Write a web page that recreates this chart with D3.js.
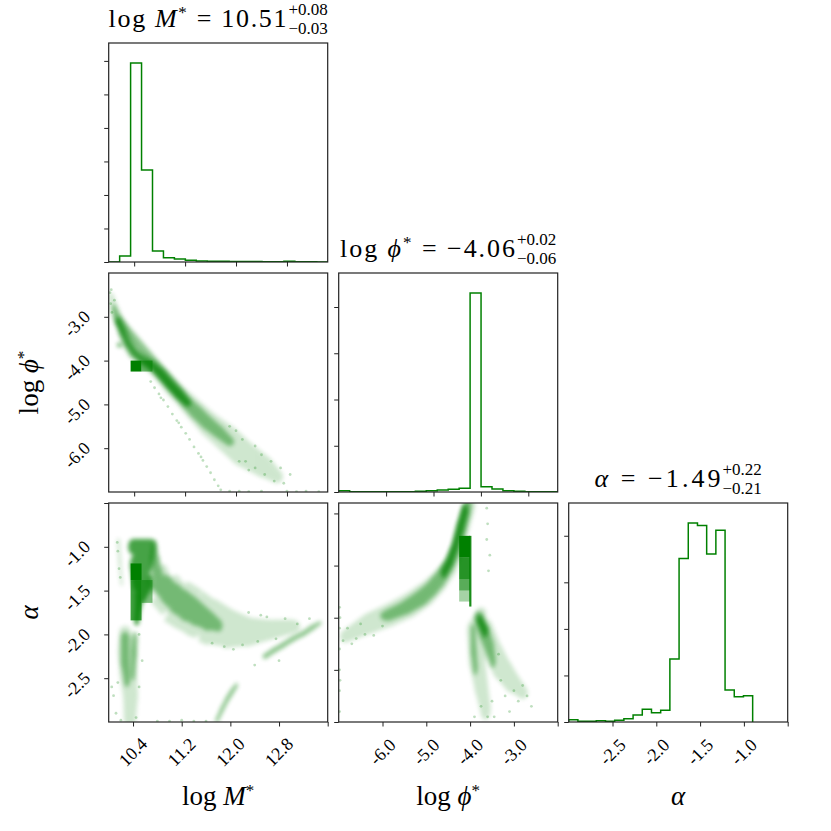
<!DOCTYPE html>
<html>
<head>
<meta charset="utf-8">
<script src="https://cdn.jsdelivr.net/npm/d3@7"></script>
<style>
  body { margin: 0; background: #fff; }
  text { font-family: "Liberation Serif", "DejaVu Serif", serif; fill: #000; }
</style>
</head>
<body>
<svg id="chart" width="831" height="831"></svg>
<script>
// axis ranges of every panel
const logMRangeTop = [10.0, 13.44];
const logMRangeBottom = [10.0, 13.6];
const logPhiRangeHist = [-7.0, -2.38];
const logPhiRangeSide = [-7.0, -2.0];
const alphaRangeHist = [-3.0, -0.5];
const alphaRangeLeft = [-3.0, -0.5];
const alphaRangeMid = [-2.5, -0.4];

// 1D histograms, 20 bins each
const logMBinRange = [10.0, 13.44];
const logMCounts = [0, 179, 5940, 2746, 330, 130, 90, 50, 30, 20, 20, 15, 15, 12, 10, 10, 20, 10, 5, 3];
const logPhiBinRange = [-7.0, -2.38];
const logPhiCounts = [28, 6, 6, 6, 6, 8, 8, 15, 28, 43, 58, 80, 4305, 115, 65, 28, 15, 6, 4, 3];
const alphaBinRange = [-3.0, -0.9];
const alphaCounts = [50, 15, 15, 28, 15, 37, 71, 151, 274, 201, 253, 1354, 3514, 4276, 4218, 3607, 4119, 685, 540, 562];
const countTicksM = [0, 1000, 2000, 3000, 4000, 5000, 6000];
const countTicks = [0, 1000, 2000, 3000, 4000];

// ticks
const logMTicks = [10.4, 11.2, 12.0, 12.8];
const logMTicksBottom = [10.4, 11.2, 12.0, 12.8, 13.6];
const logPhiTicks = [-6.0, -5.0, -4.0, -3.0];
const logPhiTicksBottom = [-6.0, -5.0, -4.0, -3.0, -2.0];
const alphaTicks = [-2.5, -2.0, -1.5, -1.0];
const alphaTicksAll = [-2.5, -2.0, -1.5, -1.0, -0.5];

// titles
const titleValues = ["10.51", "\u22124.06", "\u22121.49"];
const titlePlus = ["+0.08", "+0.02", "+0.22"];
const titleMinus = ["\u22120.03", "\u22120.06", "\u22120.21"];

// ---- sample clouds: bands of [x, y, spread x, spread y] in data units ----
// log M* vs log phi*
const mPhiWide = [
  [10.04, -2.55, 0.04, 0.1], [10.10, -2.85, 0.06, 0.14], [10.18, -3.15, 0.08, 0.16], [10.27, -3.5, 0.09, 0.16],
  [10.38, -3.8, 0.1, 0.15], [10.54, -3.99, 0.11, 0.14], [10.70, -4.14, 0.11, 0.15], [10.86, -4.37, 0.12, 0.17],
  [11.01, -4.63, 0.13, 0.19], [11.20, -4.90, 0.14, 0.2], [11.38, -5.17, 0.16, 0.23], [11.59, -5.47, 0.18, 0.27],
  [11.85, -5.77, 0.2, 0.3], [12.11, -6.12, 0.2, 0.3], [12.43, -6.42, 0.16, 0.25], [12.64, -6.65, 0.1, 0.15]
];
const mPhiMid = [
  [10.08, -2.8, 0.03, 0.08], [10.14, -3.05, 0.05, 0.11], [11.22, -4.95, 0.09, 0.13], [11.38, -5.18, 0.1, 0.15],
  [11.55, -5.42, 0.1, 0.15], [11.72, -5.62, 0.09, 0.14], [11.9, -5.85, 0.07, 0.1]
];
const mPhiCore = [
  [10.15, -3.1, 0.035, 0.09], [10.22, -3.35, 0.05, 0.1], [10.30, -3.6, 0.055, 0.1], [10.40, -3.82, 0.06, 0.09],
  [10.52, -3.97, 0.07, 0.08], [10.66, -4.10, 0.07, 0.09], [10.80, -4.28, 0.075, 0.1], [10.95, -4.53, 0.075, 0.1],
  [11.10, -4.76, 0.07, 0.11], [11.24, -4.97, 0.05, 0.08]
];
const mPhiKnot = [[10.16, -3.64, 0.025, 0.05], [10.18, -3.66, 0.02, 0.04]];
const mPhiDots = [
  [10.02, -2.45], [10.04, -2.38], [10.03, -2.7], [10.09, -2.62], [10.05, -2.9],
  [10.66, -4.48], [10.72, -4.62], [10.79, -4.76], [10.86, -4.9], [10.93, -5.05], [11.0, -5.22], [11.07, -5.37],
  [11.14, -5.52], [11.21, -5.66], [11.27, -5.8], [11.34, -5.97], [11.41, -6.12], [11.48, -6.28], [11.54, -6.42],
  [11.6, -6.56], [11.66, -6.72], [11.72, -6.86], [11.76, -6.95], [10.82, -4.85], [11.1, -5.42], [11.45, -6.2],
  [11.9, -5.5], [12.0, -5.6], [12.1, -5.8], [12.15, -6.3], [12.3, -5.95], [12.3, -6.45], [12.4, -6.15],
  [12.45, -6.6], [12.55, -6.3], [12.6, -6.75], [12.7, -6.45], [12.75, -6.8], [12.2, -6.5], [12.85, -6.6], [12.05, -6.3],
  [11.9, -6.98], [12.05, -6.98], [12.2, -6.99], [12.4, -6.98], [12.8, -6.98], [12.95, -6.99], [13.1, -6.98], [13.3, -6.99]
];
const mPhiCells = [
  [10.344, 10.516, -4.0, -4.25, 1.0],
  [10.516, 10.688, -4.0, -4.25, 0.6]
];

// log M* vs alpha
const mAlphaTailWide = [
  [10.75, -1.3, 0.08, 0.25], [10.9, -1.48, 0.12, 0.28], [11.1, -1.62, 0.15, 0.3], [11.34, -1.72, 0.17, 0.3],
  [11.61, -1.84, 0.17, 0.28], [11.94, -1.93, 0.18, 0.23], [12.27, -1.97, 0.18, 0.17], [12.6, -1.95, 0.15, 0.12],
  [13.0, -1.91, 0.15, 0.08]
];
const mAlphaTail = [
  [10.75, -1.1, 0.06, 0.18], [10.82, -1.38, 0.08, 0.15], [10.97, -1.5, 0.12, 0.16], [11.12, -1.6, 0.13, 0.17],
  [11.27, -1.68, 0.13, 0.17], [11.42, -1.75, 0.12, 0.15], [11.62, -1.84, 0.1, 0.12], [11.8, -1.9, 0.07, 0.07]
];
const mAlphaColumn = [
  [10.40, -1.0, 0.08, 0.09], [10.55, -1.0, 0.09, 0.09], [10.70, -1.0, 0.07, 0.09], [10.62, -1.2, 0.1, 0.12],
  [10.45, -1.2, 0.1, 0.12], [10.48, -1.4, 0.09, 0.12], [10.65, -1.4, 0.08, 0.1], [10.5, -1.6, 0.06, 0.12],
  [10.47, -1.78, 0.04, 0.1], [10.46, -1.85, 0.04, 0.05]
];
const mAlphaLeftWide = [
  [10.27, -1.98, 0.1, 0.08], [10.3, -2.2, 0.15, 0.22], [10.32, -2.45, 0.14, 0.18], [10.36, -2.7, 0.12, 0.17],
  [10.35, -2.95, 0.1, 0.12]
];
const mAlphaLeftCore = [[10.27, -2.05, 0.07, 0.08], [10.27, -2.3, 0.07, 0.13], [10.3, -2.5, 0.05, 0.1]];
const mAlphaLeftCore2 = [[10.43, -2.05, 0.045, 0.08], [10.42, -2.2, 0.045, 0.1], [10.4, -2.45, 0.03, 0.08]];
const mAlphaRightLine = [
  [12.57, -2.25, 0.04, 0.03], [12.72, -2.18, 0.04, 0.03], [12.87, -2.12, 0.04, 0.03], [13.03, -2.05, 0.04, 0.03],
  [13.2, -1.99, 0.04, 0.03], [13.35, -1.92, 0.04, 0.03], [13.47, -1.87, 0.03, 0.02]
];
const mAlphaLowLine = [
  [11.78, -2.98, 0.025, 0.03], [11.86, -2.86, 0.025, 0.04], [11.94, -2.75, 0.025, 0.04], [12.02, -2.66, 0.025, 0.04],
  [12.1, -2.58, 0.02, 0.03]
];
const mAlphaThinLine = [[10.16, -0.93, 0.025, 0.03], [10.18, -1.15, 0.025, 0.05], [10.21, -1.42, 0.02, 0.03]];
const mAlphaDots = [
  [12.3, -1.75], [12.45, -2.08], [12.6, -1.8], [12.75, -2.05], [12.9, -1.82], [13.1, -1.88], [13.3, -1.82],
  [12.2, -2.12], [12.05, -2.17], [11.9, -2.14], [12.5, -1.78], [12.8, -2.3], [12.4, -2.35], [11.7, -2.1],
  [10.05, -2.6], [10.08, -2.7], [10.12, -2.9], [10.15, -2.55], [10.5, -2.0], [10.55, -2.3], [10.5, -2.6],
  [10.45, -2.95], [10.2, -2.98], [10.8, -2.99], [11.0, -2.99], [11.2, -2.98], [11.4, -2.99], [11.6, -2.99],
  [10.14, -0.95], [10.15, -1.05], [10.17, -1.25], [10.19, -1.35]
];
const mAlphaCells = [
  [10.36, 10.54, -1.19, -1.38, 1.0],
  [10.36, 10.54, -1.38, -1.84, 0.75],
  [10.54, 10.72, -1.38, -1.64, 0.5]
];

// log phi* vs alpha
const phiAlphaBandWide = [
  [-6.85, -1.68, 0.12, 0.06], [-6.29, -1.552, 0.2, 0.1], [-5.83, -1.473, 0.22, 0.11], [-5.37, -1.377, 0.22, 0.12],
  [-4.99, -1.265, 0.2, 0.12], [-4.69, -1.138, 0.17, 0.11], [-4.46, -1.01, 0.15, 0.1], [-4.30, -0.85, 0.15, 0.1],
  [-4.19, -0.659, 0.15, 0.1], [-4.08, -0.499, 0.14, 0.1], [-4.0, -0.42, 0.12, 0.06]
];
const phiAlphaBand = [
  [-5.9, -1.48, 0.15, 0.05], [-5.5, -1.41, 0.18, 0.06], [-5.15, -1.32, 0.18, 0.07], [-4.9, -1.23, 0.15, 0.07],
  [-4.68, -1.12, 0.12, 0.08], [-4.48, -0.99, 0.1, 0.08], [-4.32, -0.84, 0.09, 0.09], [-4.2, -0.66, 0.09, 0.09],
  [-4.1, -0.5, 0.09, 0.08], [-4.05, -0.42, 0.08, 0.05]
];
const phiAlphaBandCore = [
  [-4.6, -1.07, 0.06, 0.05], [-4.45, -0.95, 0.06, 0.06], [-4.33, -0.8, 0.06, 0.07], [-4.22, -0.63, 0.07, 0.08],
  [-4.12, -0.47, 0.07, 0.06]
];
const phiAlphaLowWide = [
  [-3.75, -1.45, 0.12, 0.05], [-3.82, -1.62, 0.25, 0.13], [-3.85, -1.9, 0.18, 0.15], [-3.75, -2.15, 0.15, 0.14],
  [-3.65, -2.38, 0.12, 0.1]
];
const phiAlphaLowWide2 = [
  [-3.68, -1.6, 0.2, 0.1], [-3.5, -1.8, 0.2, 0.13], [-3.3, -1.97, 0.2, 0.13], [-3.05, -2.12, 0.18, 0.1],
  [-2.8, -2.22, 0.12, 0.06]
];
const phiAlphaLow = [
  [-3.8, -1.5, 0.1, 0.06], [-3.68, -1.64, 0.12, 0.09], [-3.56, -1.78, 0.1, 0.09], [-3.48, -1.92, 0.06, 0.06]
];
const phiAlphaLowLeft = [[-3.93, -1.62, 0.05, 0.06], [-3.92, -1.8, 0.06, 0.1], [-3.88, -1.98, 0.05, 0.07]];
const phiAlphaLowCore = [[-3.78, -1.52, 0.06, 0.05], [-3.66, -1.63, 0.06, 0.06]];
const phiAlphaDots = [
  [-6.9, -1.72], [-6.8, -1.6], [-6.6, -1.7], [-6.5, -1.56], [-6.4, -1.66], [-6.7, -1.75], [-6.2, -1.67], [-6.0, -1.58],
  [-6.98, -1.4], [-6.98, -1.6], [-6.98, -1.8], [-6.98, -2.0], [-6.98, -2.2], [-6.98, -2.4], [-6.97, -1.5], [-6.97, -2.1],
  [-3.3, -2.1], [-3.2, -2.25], [-3.0, -2.2], [-2.9, -2.3], [-2.7, -2.25], [-2.6, -2.35], [-3.5, -2.3], [-3.6, -2.45],
  [-3.9, -2.45], [-3.75, -2.35], [-3.45, -2.45], [-3.1, -2.4], [-2.8, -2.15], [-3.35, -1.85],
  [-3.62, -0.45], [-3.6, -0.6], [-3.62, -0.75], [-3.55, -0.9], [-3.58, -1.05]
];
const phiAlphaCells = [
  [-4.25, -4.0, -0.715, -0.925, 1.0],
  [-4.25, -4.0, -0.925, -1.135, 0.85],
  [-4.25, -4.0, -1.135, -1.24, 0.65],
  [-4.25, -4.0, -1.24, -1.345, 0.35],
  [-4.02, -3.97, -0.715, -1.393, 0.9]
];

// ---------------- drawing ----------------
const svg = d3.select("#chart");
const defs = svg.append("defs");
defs.append("filter").attr("id", "soft")
  .attr("x", "-30%").attr("y", "-30%").attr("width", "160%").attr("height", "160%")
  .append("feGaussianBlur").attr("stdDeviation", 2.2);

const colX = [108.7, 338.7, 568.7];
const rowY = [43, 273, 503];
const size = 219;
const green = "#008000";
const ink = "#222";

function panel(id, c, r, xDom, yDom) {
  const x = d3.scaleLinear().domain(xDom).range([colX[c], colX[c] + size]);
  const y = d3.scaleLinear().domain(yDom).range([rowY[r] + size, rowY[r]]);
  defs.append("clipPath").attr("id", "clip-" + id)
    .append("rect").attr("x", colX[c]).attr("y", rowY[r]).attr("width", size).attr("height", size);
  const g = svg.append("g");
  const plot = g.append("g").attr("clip-path", `url(#clip-${id})`);
  return { x, y, g, plot, c, r };
}

function frame(p) {
  p.g.append("rect")
    .attr("x", colX[p.c]).attr("y", rowY[p.r])
    .attr("width", size).attr("height", size)
    .attr("fill", "none").attr("stroke", ink).attr("stroke-width", 1.2);
}

function ticks(p, xVals, yVals) {
  p.g.append("g")
    .attr("transform", `translate(0,${rowY[p.r] + size})`)
    .call(d3.axisBottom(p.x).tickValues(xVals).tickSize(4.5).tickFormat(""))
    .call(s => { s.select(".domain").remove(); s.selectAll("line").attr("stroke", ink).attr("stroke-width", 1); });
  p.g.append("g")
    .attr("transform", `translate(${colX[p.c]},0)`)
    .call(d3.axisLeft(p.y).tickValues(yVals).tickSize(4.5).tickFormat(""))
    .call(s => { s.select(".domain").remove(); s.selectAll("line").attr("stroke", ink).attr("stroke-width", 1); });
}

function xLabels(p, vals) {
  p.g.selectAll(null).data(vals).join("text")
    .attr("transform", d => `translate(${p.x(d)},752) rotate(-45)`)
    .attr("text-anchor", "middle").attr("dominant-baseline", "central")
    .attr("font-size", 18).text(d => d.toFixed(1));
}

function yLabels(p, vals) {
  p.g.selectAll(null).data(vals).join("text")
    .attr("transform", d => `translate(77,${p.y(d) + 7}) rotate(-45)`)
    .attr("text-anchor", "middle").attr("dominant-baseline", "central")
    .attr("font-size", 18).text(d => d.toFixed(1));
}

function hist(p, binRange, counts) {
  const w = (binRange[1] - binRange[0]) / counts.length;
  const pts = [[binRange[0], 0]];
  counts.forEach((c, i) => {
    pts.push([binRange[0] + i * w, c]);
    pts.push([binRange[0] + (i + 1) * w, c]);
  });
  pts.push([binRange[1], 0]);
  const line = d3.line().x(d => p.x(d[0])).y(d => p.y(d[1]));
  p.plot.append("path").datum(pts)
    .attr("fill", "none").attr("stroke", green).attr("stroke-width", 1.5)
    .attr("d", line);
}

// one density layer: each band is a chain of ellipses joined by tapered quads
function cloud(p, bands, opacity) {
  const g = p.plot.append("g").attr("opacity", opacity).attr("filter", "url(#soft)");
  bands.forEach(band => {
    const pts = band.map(d => ({
      cx: p.x(d[0]), cy: p.y(d[1]),
      rx: Math.abs(p.x(d[0] + d[2]) - p.x(d[0])),
      ry: Math.abs(p.y(d[1] + d[3]) - p.y(d[1]))
    }));
    g.selectAll(null).data(pts).join("ellipse")
      .attr("cx", d => d.cx).attr("cy", d => d.cy)
      .attr("rx", d => d.rx).attr("ry", d => d.ry)
      .attr("fill", green);
    const quads = d3.pairs(pts).map(([a, b]) => {
      const dx = b.cx - a.cx, dy = b.cy - a.cy, len = Math.hypot(dx, dy) || 1;
      const nx = -dy / len, ny = dx / len;
      const ha = Math.hypot(a.rx * nx, a.ry * ny), hb = Math.hypot(b.rx * nx, b.ry * ny);
      return [
        [a.cx + nx * ha, a.cy + ny * ha], [b.cx + nx * hb, b.cy + ny * hb],
        [b.cx - nx * hb, b.cy - ny * hb], [a.cx - nx * ha, a.cy - ny * ha]
      ];
    });
    g.selectAll(null).data(quads).join("path")
      .attr("d", q => "M" + q.join("L") + "Z")
      .attr("fill", green);
  });
}

function dots(p, pts) {
  p.plot.append("g").selectAll("circle").data(pts).join("circle")
    .attr("cx", d => p.x(d[0])).attr("cy", d => p.y(d[1]))
    .attr("r", 1.4).attr("fill", green).attr("opacity", 0.25);
}

function cells(p, list) {
  p.plot.append("g").selectAll("rect").data(list).join("rect")
    .attr("x", d => p.x(d[0])).attr("width", d => p.x(d[1]) - p.x(d[0]))
    .attr("y", d => p.y(d[2])).attr("height", d => p.y(d[3]) - p.y(d[2]))
    .attr("fill", green).attr("opacity", d => d[4]);
}

function scatter(p, sparse, medium, dense, pts, sq) {
  cloud(p, sparse, 0.19);
  dots(p, pts);
  cloud(p, medium, 0.44);
  cloud(p, dense, 0.72);
  cells(p, sq);
}

// diagonal histograms
const hM = panel("hM", 0, 0, logMRangeTop, [0, d3.max(logMCounts) * 1.1]);
hist(hM, logMBinRange, logMCounts);
ticks(hM, logMTicks, countTicksM);
frame(hM);

const hPhi = panel("hPhi", 1, 1, logPhiRangeHist, [0, d3.max(logPhiCounts) * 1.1]);
hist(hPhi, logPhiBinRange, logPhiCounts);
ticks(hPhi, logPhiTicks, countTicks);
frame(hPhi);

const hAlpha = panel("hAlpha", 2, 2, alphaRangeHist, [0, d3.max(alphaCounts) * 1.1]);
hist(hAlpha, alphaBinRange, alphaCounts);
ticks(hAlpha, alphaTicksAll, countTicks);
xLabels(hAlpha, alphaTicks);
frame(hAlpha);

// 2D panels
const pMPhi = panel("pMPhi", 0, 1, logMRangeTop, logPhiRangeSide);
scatter(pMPhi, [mPhiWide], [mPhiMid], [mPhiCore, mPhiKnot], mPhiDots, mPhiCells);
ticks(pMPhi, logMTicks, logPhiTicks);
yLabels(pMPhi, logPhiTicks);
frame(pMPhi);

const pMAlpha = panel("pMAlpha", 0, 2, logMRangeBottom, alphaRangeLeft);
scatter(pMAlpha,
  [mAlphaTailWide, mAlphaLeftWide, mAlphaThinLine],
  [mAlphaTail, mAlphaLeftCore, mAlphaLeftCore2, mAlphaRightLine, mAlphaLowLine],
  [mAlphaColumn], mAlphaDots, mAlphaCells);
ticks(pMAlpha, logMTicksBottom, alphaTicksAll);
xLabels(pMAlpha, logMTicks);
yLabels(pMAlpha, alphaTicks);
frame(pMAlpha);

const pPhiAlpha = panel("pPhiAlpha", 1, 2, logPhiRangeSide, alphaRangeMid);
scatter(pPhiAlpha,
  [phiAlphaBandWide, phiAlphaLowWide, phiAlphaLowWide2],
  [phiAlphaBand, phiAlphaLow, phiAlphaLowLeft],
  [phiAlphaBandCore, phiAlphaLowCore], phiAlphaDots, phiAlphaCells);
ticks(pPhiAlpha, logPhiTicksBottom, alphaTicksAll);
xLabels(pPhiAlpha, logPhiTicks);
frame(pPhiAlpha);

// titles over the diagonal
const titleNames = [
  [{ s: "log " }, { s: "M", it: true }, { s: "*", star: true }],
  [{ s: "log " }, { s: "\u03d5", it: true }, { s: "*", star: true }],
  [{ s: "\u03b1", it: true }]
];
const titleWidths = [178, 175, 126];

function symbol(t, parts) {
  parts.forEach(p => {
    const ts = t.append("tspan").text(p.s);
    if (p.it) ts.attr("font-style", "italic");
    if (p.star) ts.attr("font-size", 17).attr("dy", -9);
  });
  return parts.some(p => p.star);
}

titleNames.forEach((parts, i) => {
  const cx = colX[i] + size / 2;
  const base = rowY[i] - 16;
  const t = svg.append("text").attr("y", base).attr("font-size", 26);
  const starred = symbol(t, parts);
  t.append("tspan").attr("dy", starred ? 9 : 0).text(" = " + titleValues[i]);
  t.attr("textLength", titleWidths[i]).attr("lengthAdjust", "spacing");
  const sup = svg.append("text").attr("y", base - 12).attr("font-size", 17).text(titlePlus[i]);
  const sub = svg.append("text").attr("y", base + 7).attr("font-size", 17).text(titleMinus[i]);
  const extra = Math.max(sup.node().getComputedTextLength(), sub.node().getComputedTextLength());
  const x0 = cx - (titleWidths[i] + 2 + extra) / 2;
  t.attr("x", x0);
  sup.attr("x", x0 + titleWidths[i] + 2);
  sub.attr("x", x0 + titleWidths[i] + 2);
});

// axis titles
titleNames.forEach((parts, i) => {
  const t = svg.append("text")
    .attr("x", colX[i] + size / 2).attr("y", 805)
    .attr("text-anchor", "middle").attr("font-size", 27);
  symbol(t, parts);
});
[1, 2].forEach(i => {
  const t = svg.append("text")
    .attr("transform", `translate(38,${rowY[i] + size / 2}) rotate(-90)`)
    .attr("text-anchor", "middle").attr("font-size", 27);
  symbol(t, titleNames[i]);
});
</script>
</body>
</html>
